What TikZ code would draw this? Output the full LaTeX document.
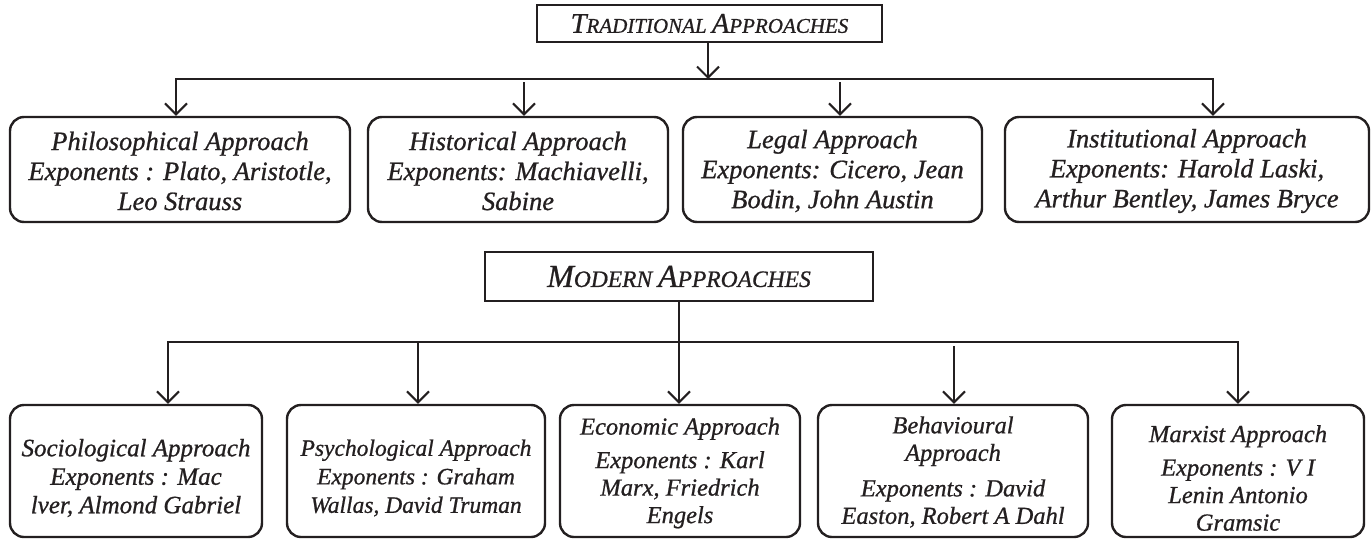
\documentclass[tikz,border=0pt]{standalone}
\usepackage{fontspec}
\setmainfont{Liberation Serif}[ItalicFeatures={FakeBold=0.8}]
\usetikzlibrary{arrows.meta}
\definecolor{ink}{HTML}{231F20}
\newcommand\bodyfont{\fontsize{26.5}{30}\selectfont\itshape}
\newcommand\lowfont{\fontsize{25}{28.5}\selectfont\itshape}
\tikzset{
  box/.style={draw=ink, line width=2.4pt, rounded corners=14pt, inner sep=0pt},
  topbox/.style={box, minimum height=105pt},
  lowbox/.style={box, minimum height=132pt},
  toptext/.style={align=center, inner sep=0pt, text=ink, font=\bodyfont},
  lowtext/.style={align=center, inner sep=0pt, text=ink, font=\lowfont},
  head/.style={draw=ink, line width=2.4pt, inner sep=0pt, text=ink},
  conn/.style={draw=ink, line width=2pt, line join=miter},
  tipV/.tip={Straight Barb[length=11pt,width=22pt,line width=2pt]},
  arr/.style={conn, -tipV},
  arrs/.style={conn, tipV-tipV},
}
\begin{document}
\begin{tikzpicture}[x=1pt,y=-1pt]
\useasboundingbox (0,0) rectangle (1372,541);

% ---------- Traditional ----------
\node[head, minimum width=345pt, minimum height=37pt] (trad) at (709.5,23.5)
  {\itshape\fontsize{28.5}{28.5}\selectfont T\fontsize{21}{21}\selectfont RADITIONAL
   \fontsize{28.5}{28.5}\selectfont A\fontsize{21}{21}\selectfont PPROACHES};

\node[topbox, minimum width=340pt] (t1) at (180,169.5) {};
\node[topbox, minimum width=300pt] (t2) at (518,169.5) {};
\node[topbox, minimum width=299pt] (t3) at (832.5,169.5) {};
\node[topbox, minimum width=364pt] (t4) at (1187,169.5) {};
\node[toptext] (t1t) at ([yshift=-1.5pt]t1.center)
  {Philosophical Approach\\Exponents : Plato, Aristotle,\\Leo Strauss};
\node[toptext] (t2t) at ([yshift=-1.5pt]t2.center)
  {Historical Approach\\Exponents: Machiavelli,\\Sabine};
\node[toptext] (t3t) at ([yshift=-1.5pt]t3.center)
  {Legal Approach\\Exponents: Cicero, Jean\\Bodin, John Austin};
\node[toptext] (t4t) at ([yshift=-1.5pt]t4.center)
  {Institutional Approach\\Exponents: Harold Laski,\\Arthur Bentley, James Bryce};

\coordinate (tbus) at (708,79);
\coordinate (tbL) at (176,79);
\coordinate (tbR) at (1213,79);
\coordinate (ta2) at (524,82);
\coordinate (ta3) at (840,82);
\draw[arr] (trad.south -| tbus) -- (tbus);
\draw[arrs] (tbL |- t1.north) -- (tbL) -- (tbR) -- (tbR |- t4.north);
\draw[arr] (ta2) -- (ta2 |- t2.north);
\draw[arr] (ta3) -- (ta3 |- t3.north);

% ---------- Modern ----------
\node[head, minimum width=388pt, minimum height=49pt] (modern) at (679,276.5)
  {\itshape\fontsize{32}{32}\selectfont M\fontsize{23.5}{23.5}\selectfont ODERN
   \fontsize{32}{32}\selectfont A\fontsize{23.5}{23.5}\selectfont PPROACHES};

\node[lowbox, minimum width=252pt] (b1) at (136,471) {};
\node[lowbox, minimum width=258pt] (b2) at (416,471) {};
\node[lowbox, minimum width=240pt] (b3) at (680,471) {};
\node[lowbox, minimum width=270pt] (b4) at (953,471) {};
\node[lowbox, minimum width=252pt] (b5) at (1238,471) {};
\node[lowtext] (b1t) at ([yshift=-7pt]b1.center)
  {Sociological Approach\\Exponents : Mac\\lver, Almond Gabriel};
\node[lowtext, font=\fontsize{23.5}{28.5}\selectfont\itshape] (b2t) at ([yshift=-7pt]b2.center)
  {Psychological Approach\\Exponents : Graham\\Wallas, David Truman};
\node[lowtext, font=\fontsize{24.5}{27.5}\selectfont\itshape] (b3t) at ([yshift=-2pt]b3.center)
  {Economic Approach\\[6pt]Exponents : Karl\\Marx, Friedrich\\Engels};
\node[lowtext, font=\fontsize{24.5}{27.5}\selectfont\itshape] (b4t) at ([yshift=-1pt]b4.center)
  {Behavioural\\Approach\\[8pt]Exponents : David\\Easton, Robert A Dahl};
\node[lowtext, font=\fontsize{24.5}{27.5}\selectfont\itshape] (b5t) at ([yshift=-7pt]b5.center)
  {Marxist Approach\\[6pt]Exponents : V I\\Lenin Antonio\\Gramsic};

\coordinate (mbL) at (168,342);
\coordinate (mbR) at (1238,342);
\coordinate (ma2) at (418,342);
\coordinate (ma4) at (954,346);
\draw[arrs] (mbL |- b1.north) -- (mbL) -- (mbR) -- (mbR |- b5.north);
\draw[arr] (modern.south) -- (modern.south |- b3.north);
\draw[arr] (ma2) -- (ma2 |- b2.north);
\draw[arr] (ma4) -- (ma4 |- b4.north);
\end{tikzpicture}
\end{document}
